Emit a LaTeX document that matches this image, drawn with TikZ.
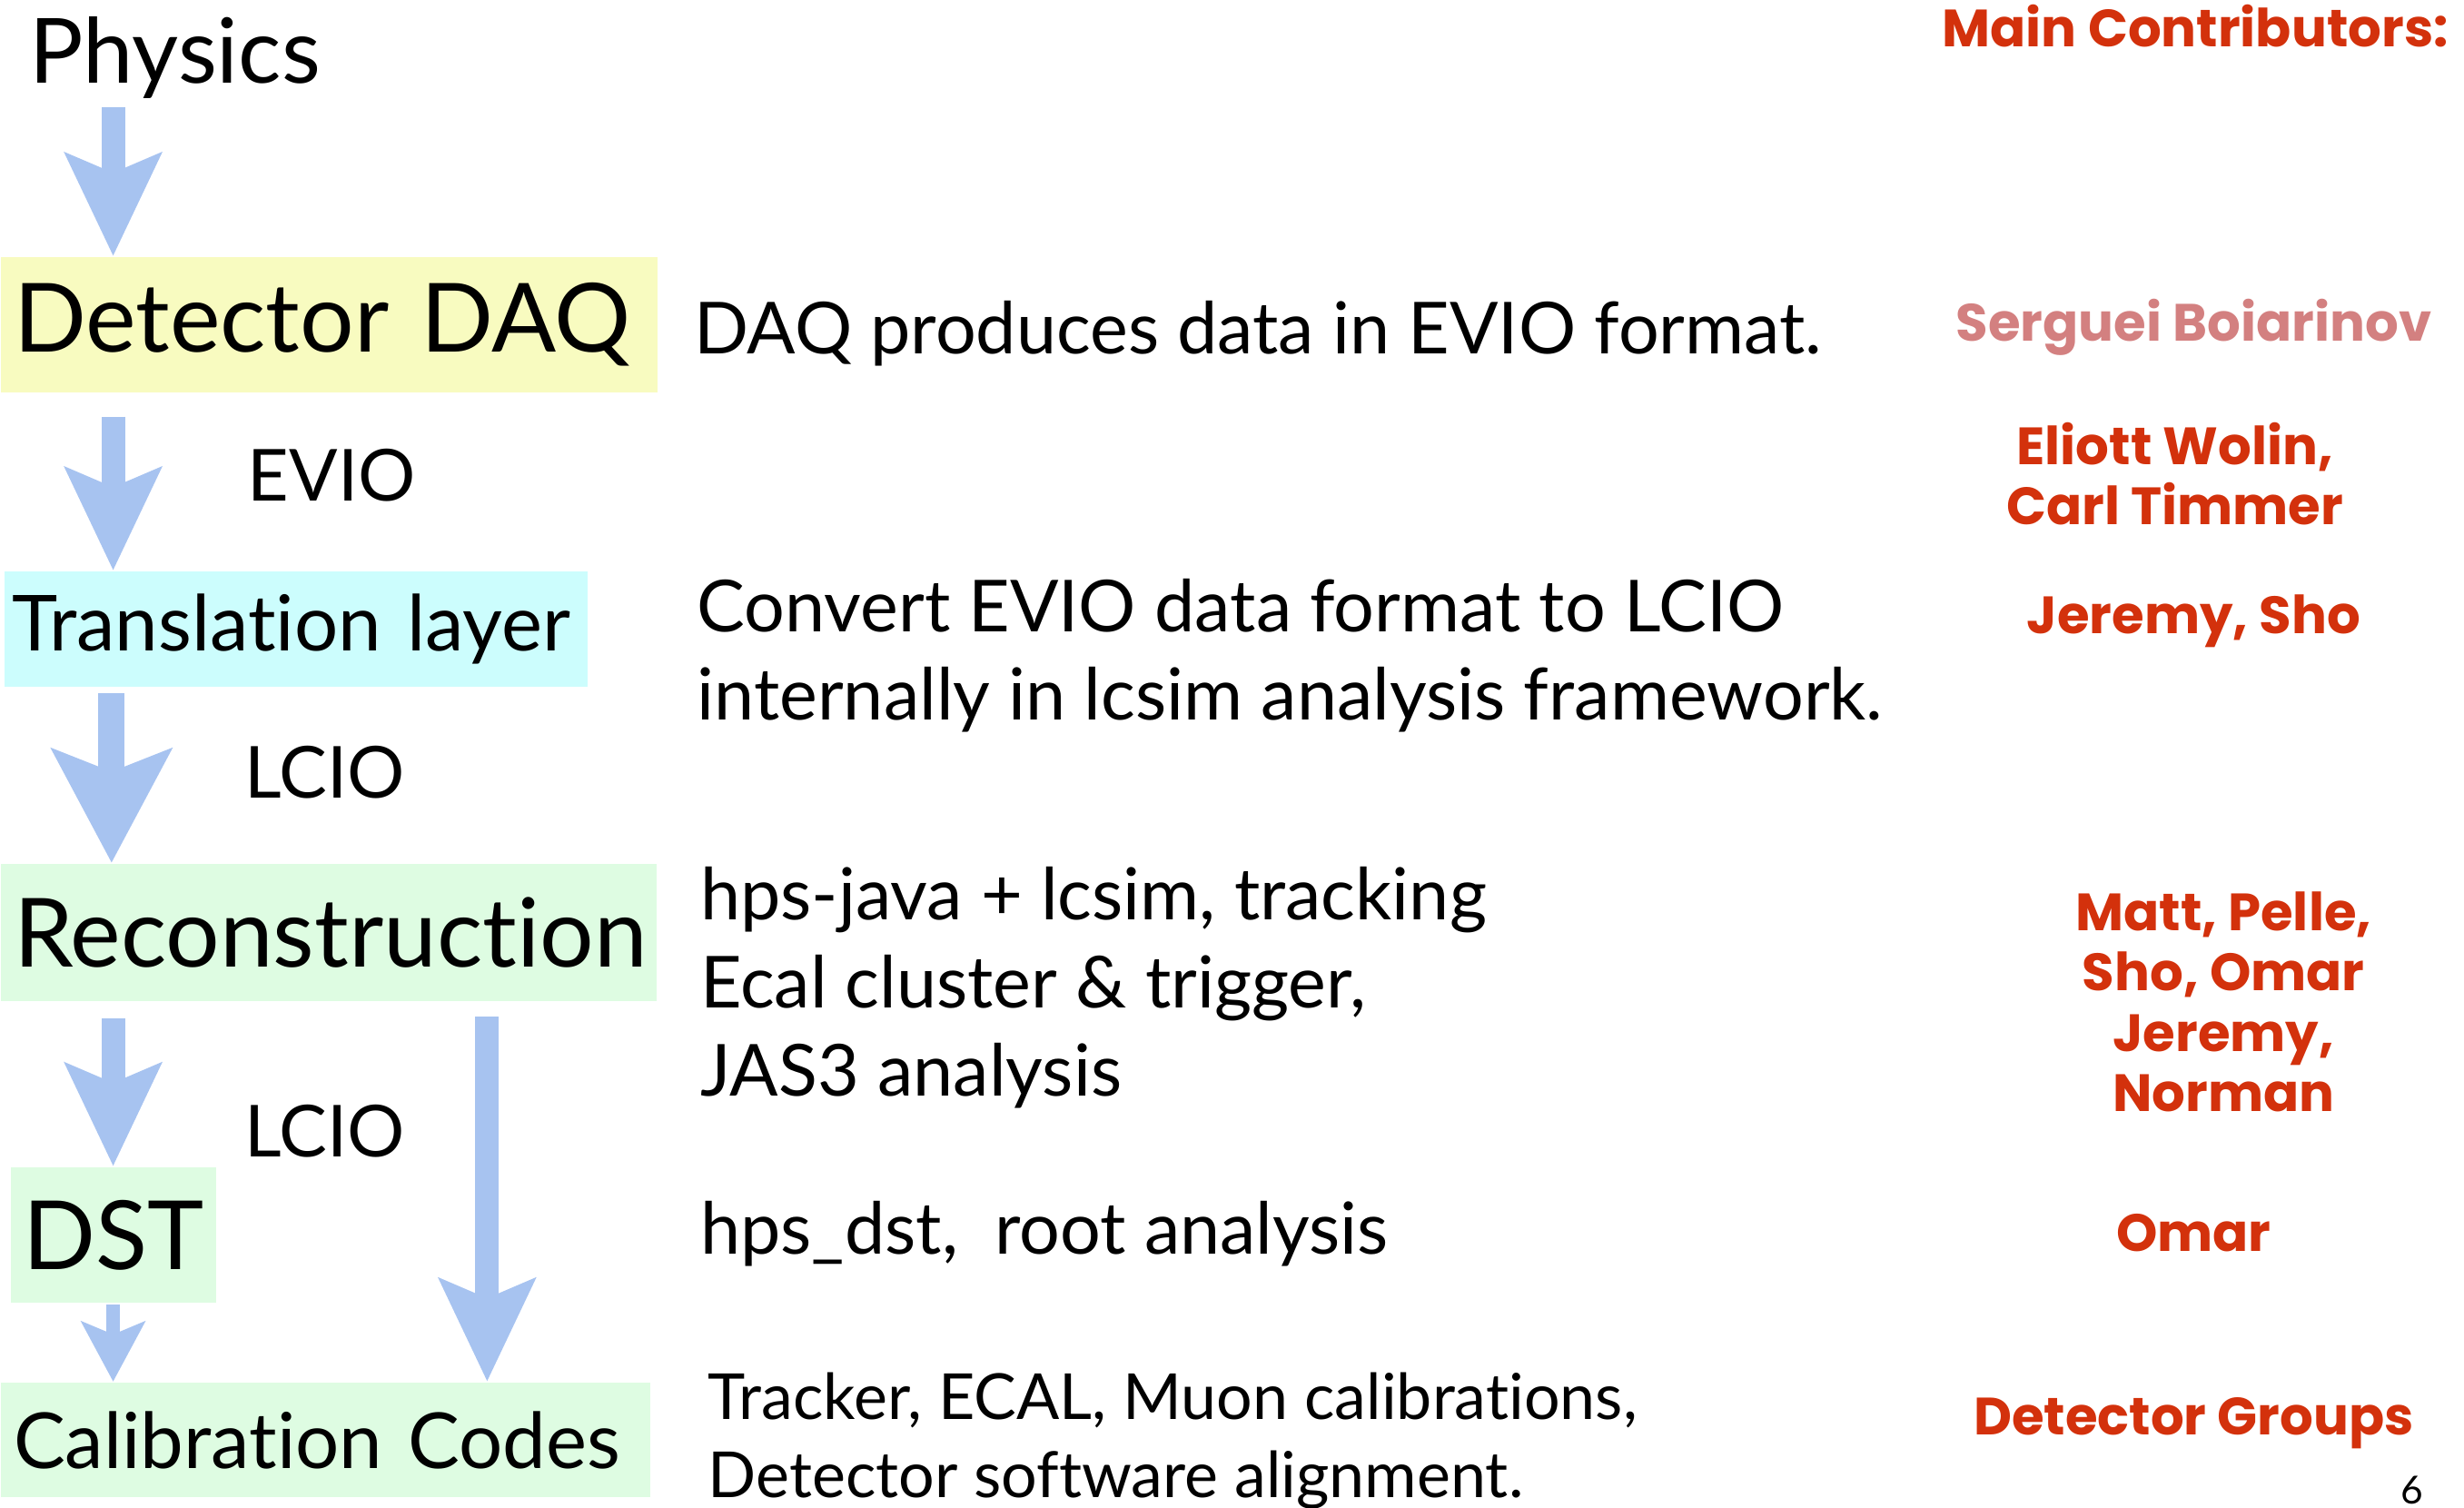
\documentclass[tikz,border=0pt]{standalone}
\usepackage{fontspec}
\setmainfont{Lato}[Ligatures=NoCommon]
\newfontfamily\namefont{Poppins}
\usetikzlibrary{arrows.meta}
\definecolor{flowblue}{RGB}{167,195,240}
\definecolor{daqfill}{RGB}{248,251,192}
\definecolor{transfill}{RGB}{204,253,253}
\definecolor{recofill}{RGB}{222,252,226}
\definecolor{namered}{RGB}{211,49,12}
\definecolor{namepink}{RGB}{211,128,128}

\begin{document}
\begin{tikzpicture}[x=0.1mm, y=-0.1mm,
        stage/.style={anchor=north west, inner xsep=0.8mm, inner ysep=0pt, align=left},
        big/.style={font=\fontsize{17.3}{20}\selectfont},
        mid/.style={font=\fontsize{14}{17}\selectfont},
        fmt/.style={anchor=base west, inner sep=0pt, font=\fontsize{13}{15}\selectfont},
        desc/.style={anchor=base west, inner sep=0pt, align=left, font=\fontsize{13}{15.9}\selectfont},
        who/.style={anchor=base, inner sep=0pt, align=center, text=namered, font=\namefont\bfseries\fontsize{9.5}{10.9}\selectfont},
        flow/.style={draw=flowblue, line width=4.3pt, -{Stealth[length=6.5mm, width=6mm, inset=1.2mm]}}
    ]
        \useasboundingbox (0,0) rectangle (1568,959);

        \node[anchor=base west, inner sep=0pt, font=\fontsize{16.3}{19}\selectfont] (phys) at (18,53) {Physics};

        \node[stage, big, fill=daqfill, text width=40.2mm, minimum height=8.6mm] (daq) at (0,163) {Detector DAQ};
        \node[stage, mid, fill=transfill, inner xsep=0.5mm, text width=36.1mm, minimum height=7.3mm] (trans) at (2,363) {Translation layer};
        \node[stage, big, fill=recofill, text width=40.1mm, minimum height=8.7mm] (reco) at (0,549) {Reconstruction};
        \node[stage, big, fill=recofill, text width=11.5mm, minimum height=8.6mm] (dst) at (6,742) {DST};
        \node[stage, mid, fill=recofill, text width=39.7mm, minimum height=7.3mm] (calib) at (0,879) {Calibration Codes};

        \node[fmt] (evio) at (157,319) {EVIO};
        \node[fmt] (lcioa) at (155,508) {LCIO};
        \node[fmt] (lciob) at (155,736) {LCIO};

        \coordinate (s1) at (72,68);
        \coordinate (s2) at (72,265);
        \coordinate (s3) at (71,441);
        \coordinate (s4) at (72,648);
        \coordinate (s5) at (310,647);
        \coordinate (s6) at (72,830);

        \draw[flow] (s1) -- (s1 |- daq.north);
        \draw[flow] (s2) -- (s2 |- trans.north);
        \draw[flow, line width=4.8pt, -{Stealth[length=7.2mm, width=7.5mm, inset=1.4mm]}] (s3) -- (s3 |- reco.north);
        \draw[flow] (s4) -- (s4 |- dst.north);
        \draw[flow] (s5) -- (s5 |- calib.north);
        \draw[flow, line width=2.6pt, -{Stealth[length=3.8mm, width=4mm, inset=0.8mm]}] (s6) -- (s6 |- calib.north);

        \node[desc] (d1) at (441,225) {DAQ produces data in EVIO format.};
        \node[desc] (d2) at (443,458) {Convert EVIO data format to LCIO\\internally in lcsim analysis framework.};
        \node[desc] (d3) at (445,697) {hps-java + lcsim, tracking\\Ecal cluster \& trigger,\\JAS3 analysis};
        \node[desc] (d4) at (445,798) {hps\_dst,\ \ root analysis};
        \node[desc, font=\fontsize{11.5}{14.2}\selectfont] (d5) at (450,953) {Tracker, ECAL, Muon calibrations,\\Detector software alignment.};

        \node[who] (head) at (1397,30) {Main Contributors:};
        \node[who, text=namepink] (w1) at (1396,217) {Serguei Boiarinov};
        \node[who] (w2) at (1384,334) {Eliott Wolin,\\Carl Timmer};
        \node[who] (w3) at (1396,403) {Jeremy, Sho};
        \node[who] (w4) at (1415,707) {Matt, Pelle,\\Sho, Omar\\Jeremy,\\Norman};
        \node[who] (w5) at (1396,796) {Omar};
        \node[who] (w6) at (1396,913) {Detector Groups};
        \node[anchor=base, inner sep=0pt, font=\fontsize{7}{8}\selectfont] (page) at (1535,957) {6};
    \end{tikzpicture}
\end{document}
